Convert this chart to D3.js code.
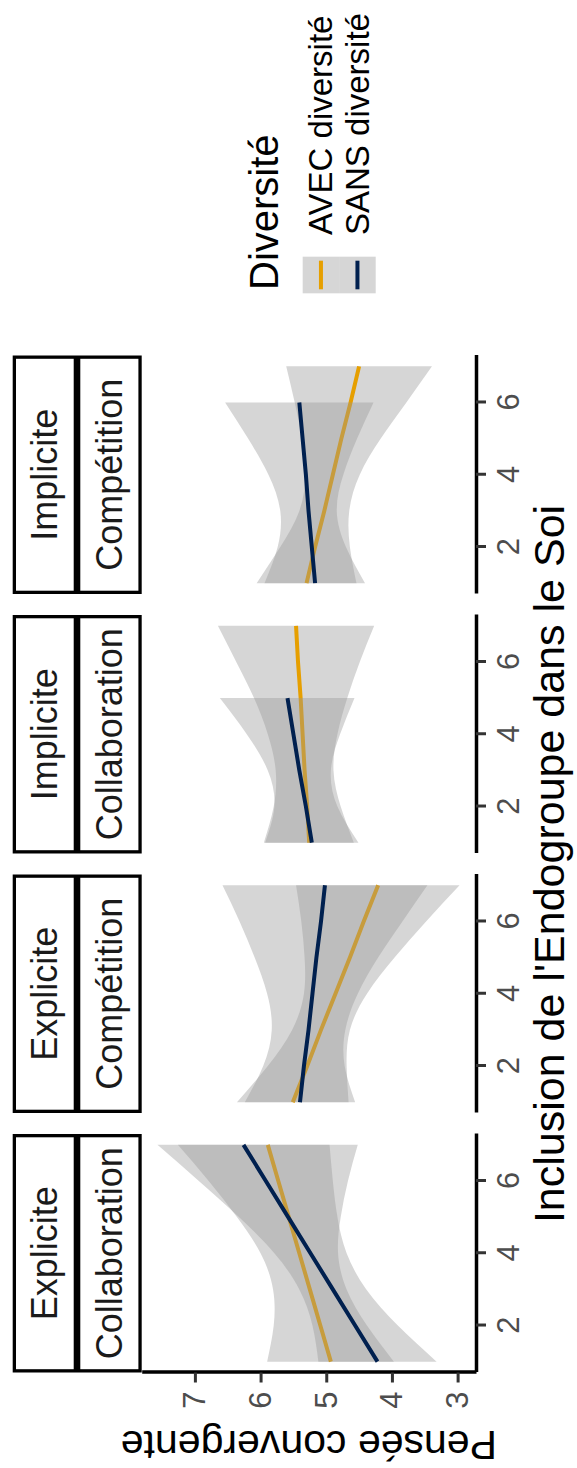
<!DOCTYPE html>
<html><head><meta charset="utf-8">
<script src="https://cdn.jsdelivr.net/npm/d3@7"></script>
<style>html,body{margin:0;padding:0;background:#fff;} svg{display:block;}</style>
</head><body>
<script>
// ---------------- data ----------------
const xValues = [1, 2, 3, 4, 5, 6, 7];
const xTicks = [2, 4, 6];
const yTicks = [3, 4, 5, 6, 7];
const facetRow = ["Explicite", "Explicite", "Implicite", "Implicite"];
const facetCol = ["Collaboration", "Compétition", "Collaboration", "Compétition"];
const groups = ["AVEC diversité", "SANS diversité"];
const groupColors = ["#E69F00", "#00204F"];

// Panel 1 : Explicite / Collaboration
const p1AvecFit = [4.93, 5.09, 5.25, 5.41, 5.57, 5.73, 5.89];
const p1AvecLo  = [3.97, 4.38, 4.69, 4.82, 4.78, 4.67, 4.52];
const p1AvecHi  = [5.90, 5.80, 5.81, 6.00, 6.36, 6.79, 7.26];
const p1SansFit = [4.22, 4.56, 4.90, 5.24, 5.58, 5.92, 6.26];
const p1SansLo  = [3.32, 3.91, 4.39, 4.69, 4.83, 4.90, 4.95];
const p1SansHi  = [5.12, 5.21, 5.41, 5.79, 6.33, 6.94, 7.57];
// Panel 2 : Explicite / Compétition
const p2AvecFit = [5.51, 5.29, 5.08, 4.86, 4.64, 4.43, 4.21];
const p2AvecLo  = [4.66, 4.69, 4.64, 4.38, 3.96, 3.48, 2.97];
const p2AvecHi  = [6.36, 5.89, 5.52, 5.34, 5.33, 5.38, 5.46];
const p2SansFit = [5.40, 5.34, 5.27, 5.21, 5.15, 5.08, 5.02];
const p2SansLo  = [4.56, 4.72, 4.71, 4.52, 4.21, 3.84, 3.46];
const p2SansHi  = [6.24, 5.96, 5.83, 5.90, 6.09, 6.32, 6.58];
// Panel 3 : Implicite / Collaboration
const p3AvecFit = [5.26, 5.29, 5.33, 5.36, 5.39, 5.43, 5.46];
const p3AvecLo  = [4.58, 4.78, 4.89, 4.83, 4.68, 4.49, 4.27];
const p3AvecHi  = [5.95, 5.80, 5.77, 5.89, 6.10, 6.37, 6.65];
const p3SansFit = [5.22, 5.31, 5.41, 5.50, 5.59];
const p3SansLo  = [4.51, 4.83, 4.93, 4.79, 4.57];
const p3SansHi  = [5.93, 5.79, 5.89, 6.21, 6.62];
// Panel 4 : Implicite / Compétition
const p4AvecFit = [5.30, 5.17, 5.03, 4.90, 4.77, 4.63, 4.50];
const p4AvecLo  = [4.54, 4.64, 4.65, 4.49, 4.17, 3.78, 3.39];
const p4AvecHi  = [6.06, 5.70, 5.41, 5.32, 5.37, 5.48, 5.61];
const p4SansFit = [5.17, 5.22, 5.27, 5.31, 5.36, 5.41];
const p4SansLo  = [4.41, 4.70, 4.84, 4.74, 4.53, 4.28];
const p4SansHi  = [5.94, 5.74, 5.70, 5.88, 6.19, 6.54];

const panelData = [
  [[p1AvecFit, p1AvecLo, p1AvecHi], [p1SansFit, p1SansLo, p1SansHi]],
  [[p2AvecFit, p2AvecLo, p2AvecHi], [p2SansFit, p2SansLo, p2SansHi]],
  [[p3AvecFit, p3AvecLo, p3AvecHi], [p3SansFit, p3SansLo, p3SansHi]],
  [[p4AvecFit, p4AvecLo, p4AvecHi], [p4SansFit, p4SansLo, p4SansHi]]
];

// ---------------- layout (chart drawn landscape, then rotated) ----------------
const FONT = "'Liberation Sans', Arial, Helvetica, sans-serif";
const svg = d3.select("body").append("svg").attr("width", 577).attr("height", 1468);
svg.append("rect").attr("width", 577).attr("height", 1468).attr("fill", "#fff");
const g = svg.append("g").attr("transform", "translate(0,1468) rotate(-90)");

const panelTop = 141.7, panelBottom = 476;
const panelW = 238.5, panelStep = 259.5, panelX0 = 95.5;
const y = d3.scaleLinear().domain([2.72, 7.81]).range([panelBottom, panelTop]);
const fmt = d3.format("d");

facetRow.forEach((rowLab, i) => {
  const x0 = panelX0 + i * panelStep;
  const x = d3.scaleLinear().domain([0.7, 7.3]).range([x0, x0 + panelW]);
  const pg = g.append("g");

  // ribbons + lines, group by group
  panelData[i].forEach((series, k) => {
    const [fit, lo, hi] = series;
    const pts = fit.map((f, j) => ({x: xValues[j], f: f, lo: lo[j], hi: hi[j]}));
    pg.append("path")
      .attr("d", d3.area().x(d => x(d.x)).y0(d => y(d.lo)).y1(d => y(d.hi)).curve(d3.curveNatural)(pts))
      .attr("fill", "#999999").attr("fill-opacity", 0.4);
    pg.append("path")
      .attr("d", d3.line().x(d => x(d.x)).y(d => y(d.f))(pts))
      .attr("fill", "none").attr("stroke", groupColors[k]).attr("stroke-width", 4);
  });

  // strips
  const s1 = pg.append("g");
  s1.append("rect").attr("x", x0 + 1.65).attr("y", 14.35).attr("width", panelW - 3.3).attr("height", 61)
    .attr("fill", "#fff").attr("stroke", "#000").attr("stroke-width", 3.3);
  s1.append("text").attr("x", x0 + panelW / 2).attr("y", 44.8).attr("text-anchor", "middle")
    .attr("dominant-baseline", "central").attr("font-family", FONT).attr("font-size", 36)
    .attr("fill", "#1A1A1A").text(rowLab);
  s1.append("rect").attr("x", x0 + 1.65).attr("y", 78.65).attr("width", panelW - 3.3).attr("height", 61.4)
    .attr("fill", "#fff").attr("stroke", "#000").attr("stroke-width", 3.3);
  s1.append("text").attr("x", x0 + panelW / 2).attr("y", 109.5).attr("text-anchor", "middle")
    .attr("dominant-baseline", "central").attr("font-family", FONT).attr("font-size", 36)
    .attr("fill", "#1A1A1A").text(facetCol[i]);

  // x axis
  const ax = pg.append("g").attr("transform", `translate(0,${panelBottom})`)
    .call(d3.axisBottom(x).tickValues(xTicks).tickFormat(fmt).tickSize(10).tickSizeOuter(0).tickPadding(11));
  ax.select(".domain").attr("stroke", "#000").attr("stroke-width", 3.5);
  ax.selectAll(".tick line").attr("stroke", "#333").attr("stroke-width", 3);
  ax.selectAll(".tick text").attr("font-family", FONT).attr("font-size", 31).attr("fill", "#4D4D4D");

  if (i === 0) {
    const ay = pg.append("g").attr("transform", `translate(${x0},0)`)
      .call(d3.axisLeft(y).tickValues(yTicks).tickFormat(fmt).tickSize(10).tickSizeOuter(0).tickPadding(9));
    ay.select(".domain").attr("stroke", "#000").attr("stroke-width", 3.5);
    ay.selectAll(".tick line").attr("stroke", "#333").attr("stroke-width", 3);
    ay.selectAll(".tick text").attr("font-family", FONT).attr("font-size", 31).attr("fill", "#4D4D4D");
  }
});

// axis titles
g.append("text").attr("transform", `translate(37,${(panelTop + panelBottom) / 2}) rotate(-90)`)
  .attr("text-anchor", "middle").attr("font-family", FONT).attr("font-size", 41).attr("fill", "#000")
  .text("Pensée convergente");
g.append("text").attr("x", panelX0 + (3 * panelStep + panelW) / 2).attr("y", 564)
  .attr("text-anchor", "middle").attr("font-family", FONT).attr("font-size", 43).attr("fill", "#000")
  .text("Inclusion de l'Endogroupe dans le Soi");

// legend
const lg = g.append("g");
lg.append("text").attr("x", 1178).attr("y", 278).attr("font-family", FONT).attr("font-size", 40)
  .attr("fill", "#000").text("Diversité");
const keyX = 1174.7, keyW = 36.6, keyY0 = 302.7, keyH = 36.5;
groups.forEach((lab, k) => {
  const ky = keyY0 + k * keyH;
  lg.append("rect").attr("x", keyX).attr("y", ky).attr("width", keyW).attr("height", keyH)
    .attr("fill", "#999999").attr("fill-opacity", 0.4);
  lg.append("line").attr("x1", keyX + 4).attr("x2", keyX + keyW - 4)
    .attr("y1", ky + keyH / 2).attr("y2", ky + keyH / 2)
    .attr("stroke", groupColors[k]).attr("stroke-width", 4);
  lg.append("text").attr("x", 1233).attr("y", ky + keyH / 2).attr("dominant-baseline", "central")
    .attr("font-family", FONT).attr("font-size", 33).attr("fill", "#000").text(lab);
});
</script>
</body></html>
